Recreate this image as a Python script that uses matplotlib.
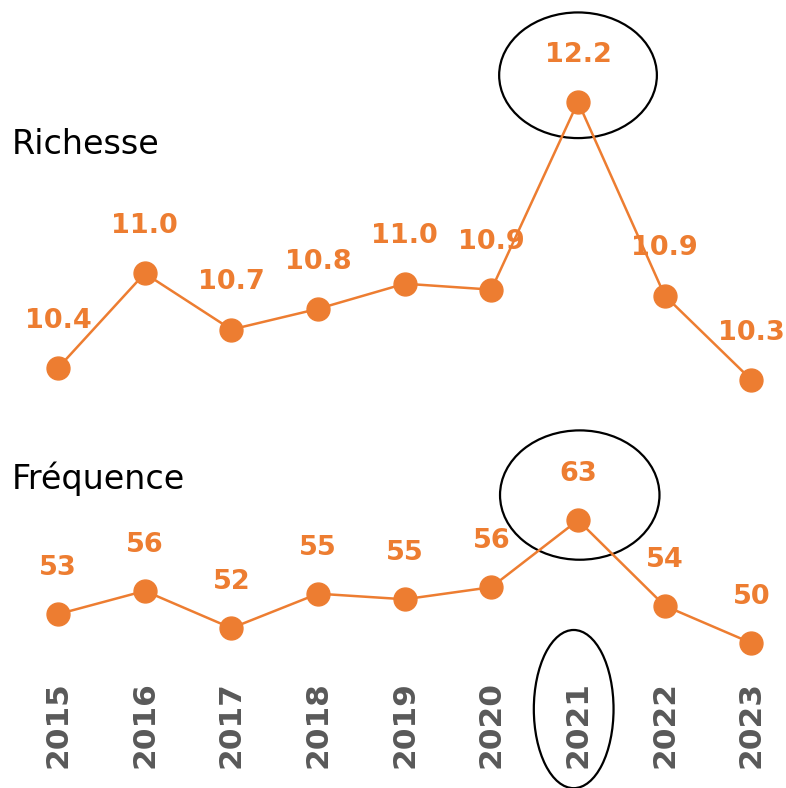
import matplotlib.pyplot as plt
from matplotlib.patches import Ellipse

years = ["2015", "2016", "2017", "2018", "2019", "2020", "2021", "2022", "2023"]
richesse = [10.4, 11.04, 10.66, 10.8, 10.97, 10.93, 12.2, 10.89, 10.32]
frequence = [53.1, 55.6, 51.6, 55.3, 54.7, 56.0, 63.2, 54.0, 50.0]

orange = "#ED7D31"
grey = "#595959"
x = list(range(len(years)))

fig = plt.figure(figsize=(7.86, 7.88), dpi=100)

# top panel: richesse
ax1 = fig.add_axes([0, 0.467, 1, 0.457])
ax1.plot(x, richesse, color=orange, lw=1.8, marker="o", ms=16.5, zorder=3)
for xi, v in zip(x, richesse):
    ax1.annotate("{:.1f}".format(v), (xi, v), xytext=(0, 34), textcoords="offset points",
                 ha="center", va="center", color=orange, fontsize=19.5, fontweight="bold")
ax1.set_xlim(-0.67, 8.40)
ax1.set_ylim(10.048, 12.484)
ax1.add_patch(Ellipse((6, 12.38), 1.82, 0.85, fill=False, ec="black", lw=1.6, clip_on=False))
ax1.axis("off")

# bottom panel: frequence
ax2 = fig.add_axes([0, 0.137, 1, 0.254])
ax2.plot(x, frequence, color=orange, lw=1.8, marker="o", ms=16.5, zorder=3)
for xi, v in zip(x, frequence):
    ax2.annotate("{:.0f}".format(v), (xi, v), xytext=(0, 33), textcoords="offset points",
                 ha="center", va="center", color=orange, fontsize=19.5, fontweight="bold")
ax2.set_xlim(-0.67, 8.40)
ax2.set_ylim(46.02, 67.53)
ax2.add_patch(Ellipse((6.02, 65.9), 1.84, 13.9, fill=False, ec="black", lw=1.6, clip_on=False))
ax2.add_patch(Ellipse((5.95, 42.9), 0.92, 17.0, fill=False, ec="black", lw=1.6, clip_on=False))
for s in ax2.spines.values():
    s.set_visible(False)
ax2.set_yticks([])
ax2.set_xticks(x)
ax2.set_xticklabels(years, rotation=90, fontsize=22.5, fontweight="bold", color=grey)
ax2.tick_params(axis="x", length=0, pad=1)

fig.text(0.015, 0.816, "Richesse", fontsize=24, va="center", ha="left")
fig.text(0.015, 0.393, "Fréquence", fontsize=24, va="center", ha="left")

fig.savefig("out.png", dpi=100)
